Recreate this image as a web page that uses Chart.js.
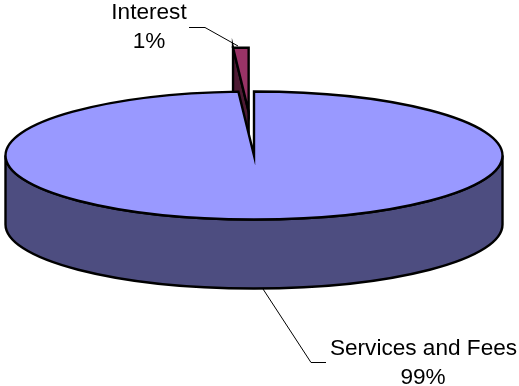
<!DOCTYPE html>
<html>
<head>
<meta charset="utf-8">
<style>
html, body { margin: 0; padding: 0; background: #fff; }
canvas { display: block; }
</style>
<script src="https://cdn.jsdelivr.net/npm/chart.js@4"></script>
</head>
<body>
<canvas id="pie" width="519" height="386"></canvas>
<script>
const categories = ['Services and Fees', 'Interest'];
const shares = [99, 1];
const topColors = ['#9999ff', '#993366'];
const sideColors = ['#4d4d80', '#4d1a33'];

// 3d look: the flat pie from chart.js gets drawn again as a tilted disc
const centerX = 254, centerY = 155.5;
const radiusX = 248.5, radiusY = 64, depth = 69;

function wedgePath(ctx, cx, cy, rx, ry, a0, a1) {
    ctx.beginPath();
    ctx.moveTo(cx, cy);
    ctx.ellipse(cx, cy, rx, ry, 0, a0, a1);
    ctx.closePath();
}

function paint(ctx, fill) {
    ctx.fillStyle = fill;
    ctx.fill();
    ctx.strokeStyle = '#000';
    ctx.lineWidth = 2.4;
    ctx.lineJoin = 'miter';
    ctx.stroke();
}

function drawLeader(ctx, pts) {
    ctx.beginPath();
    pts.forEach((p, i) => i ? ctx.lineTo(p[0], p[1]) : ctx.moveTo(p[0], p[1]));
    ctx.strokeStyle = '#000';
    ctx.lineWidth = 1;
    ctx.stroke();
}

const tiltedPie = {
    id: 'tiltedPie',
    beforeDatasetDraw(chart) {
        const ctx = chart.ctx;
        const [main, slice] = chart.getDatasetMeta(0).data;
        const sx = radiusX / main.outerRadius;
        const sy = radiusY / main.outerRadius;

        // exploded slice first, the big one covers it
        const mid = (slice.startAngle + slice.endAngle) / 2;
        const off = slice.options.offset;
        const sliceX = centerX + Math.cos(mid) * off * sx;
        const sliceY = centerY + Math.sin(mid) * off * sy;
        const edgeX = sliceX + Math.cos(slice.startAngle) * radiusX;
        const edgeY = sliceY + Math.sin(slice.startAngle) * radiusY;
        ctx.beginPath();
        ctx.moveTo(edgeX, edgeY);
        ctx.lineTo(sliceX, sliceY);
        ctx.lineTo(sliceX, sliceY + depth);
        ctx.lineTo(edgeX, edgeY + depth);
        ctx.closePath();
        paint(ctx, sideColors[1]);
        wedgePath(ctx, sliceX, sliceY, radiusX, radiusY, slice.startAngle, slice.endAngle);
        paint(ctx, topColors[1]);

        // outer wall of the big slice
        ctx.beginPath();
        ctx.ellipse(centerX, centerY, radiusX, radiusY, 0, 0, Math.PI);
        ctx.ellipse(centerX, centerY + depth, radiusX, radiusY, 0, Math.PI, 0, true);
        ctx.closePath();
        paint(ctx, sideColors[0]);
        wedgePath(ctx, centerX, centerY, radiusX, radiusY, main.startAngle, main.endAngle);
        paint(ctx, topColors[0]);

        return false;
    },
    afterDraw(chart) {
        const ctx = chart.ctx;
        drawLeader(ctx, [[189, 27.5], [205, 27.5], [238, 46]]);
        drawLeader(ctx, [[263, 289], [311, 362.5], [326, 362.5]]);

        ctx.fillStyle = '#000';
        ctx.font = '22.6px "Liberation Sans"';
        ctx.textAlign = 'center';
        ctx.textBaseline = 'alphabetic';
        ctx.fillText(categories[1], 149, 19);
        ctx.fillText(shares[1] + '%', 149, 48);
        ctx.fillText(categories[0], 423.5, 355);
        ctx.fillText(shares[0] + '%', 423, 384);
    }
};

const chrt = new Chart(document.getElementById('pie'), {
    type: 'pie',
    data: {
        labels: categories,
        datasets: [{
            data: shares,
            backgroundColor: topColors,
            offset: [0, 98]
        }]
    },
    options: {
        responsive: false,
        animation: false,
        events: [],
        layout: { padding: 0 },
        plugins: {
            legend: { display: false },
            tooltip: { enabled: false }
        }
    },
    plugins: [tiltedPie]
});
</script>
</body>
</html>
